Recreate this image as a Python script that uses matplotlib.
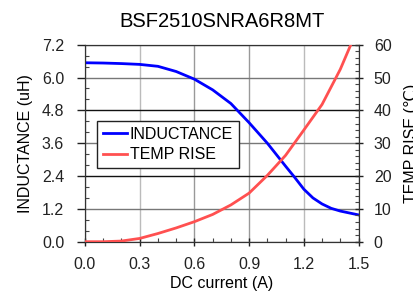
import numpy as np
import matplotlib
matplotlib.use('Agg')
import matplotlib.pyplot as plt
from matplotlib.ticker import MultipleLocator

plt.rcParams['font.family'] = ['Liberation Sans', 'DejaVu Sans']

# DC current (A) and the two measured curves
current_ind = [0.0, 0.1, 0.2, 0.3, 0.4, 0.5, 0.6, 0.7, 0.8, 0.9, 1.0, 1.1,
               1.15, 1.2, 1.25, 1.3, 1.35, 1.4, 1.5]
inductance = [6.54, 6.53, 6.51, 6.48, 6.41, 6.22, 5.94, 5.55, 5.05, 4.35, 3.6,
              2.76, 2.35, 1.92, 1.6, 1.38, 1.22, 1.12, 0.98]

current_temp = [0.0, 0.1, 0.2, 0.3, 0.4, 0.5, 0.6, 0.7, 0.8, 0.9, 1.0, 1.1,
                1.2, 1.3, 1.4, 1.5]
temp_rise = [0.0, 0.0, 0.2, 1.0, 2.5, 4.2, 6.1, 8.3, 11.2, 14.8, 20.2, 26.3,
             34.0, 41.8, 52.5, 65.5]

x_ticks = [0.0, 0.3, 0.6, 0.9, 1.2, 1.5]
left_ticks = [0.0, 1.2, 2.4, 3.6, 4.8, 6.0, 7.2]
right_ticks = [0, 10, 20, 30, 40, 50, 60]

fig = plt.figure(figsize=(4.14, 2.96), dpi=100)
ax = fig.add_axes([0.2053, 0.1834, 0.6607, 0.6656])
ax2 = ax.twinx()

ax.plot(current_ind, inductance, color='#0000ff', lw=2.0, label='INDUCTANCE', zorder=3)
ax2.plot(current_temp, temp_rise, color='#ff5050', lw=2.0, label='TEMP RISE', zorder=3)

ax.set_xlim(0, 1.5)
ax.set_ylim(0, 7.2)
ax2.set_ylim(0, 60)
ax.set_xticks(x_ticks)
ax.set_xticklabels(['%.1f' % v for v in x_ticks])
ax.set_yticks(left_ticks)
ax.set_yticklabels(['%.1f' % v for v in left_ticks])
ax2.set_yticks(right_ticks)
ax.xaxis.set_minor_locator(MultipleLocator(0.1))
ax.yaxis.set_minor_locator(MultipleLocator(0.4))
ax2.yaxis.set_minor_locator(MultipleLocator(2))

ax.grid(True, which='major', color='#999999', lw=1.0)
for v, gl in zip(left_ticks, ax.get_ygridlines()):
    if v in (2.4, 4.8):
        gl.set_color('#111111')
    else:
        gl.set_color('#777777')
for v, gl in zip(x_ticks, ax.get_xgridlines()):
    if v in (0.3, 1.2):
        gl.set_color('#bbbbbb')

ax.tick_params(axis='y', which='major', direction='out', length=6, width=1, pad=9,
               labelsize=11.5, colors='#222222')
ax.tick_params(axis='x', which='major', direction='inout', length=6, width=1, pad=8,
               labelsize=11.5, colors='#222222')
ax.tick_params(which='minor', direction='in', length=3, width=0.8, colors='#444444')
ax2.tick_params(which='major', direction='inout', length=6, width=1, pad=8,
                labelsize=11.5, colors='#222222')
ax2.tick_params(which='minor', direction='in', length=3, width=0.8, colors='#444444')
for a in (ax, ax2):
    for s in a.spines.values():
        s.set_color('#333333')

ax.set_xlabel('DC current (A)', fontsize=11.5, labelpad=3)
ax.set_ylabel('INDUCTANCE (uH)', fontsize=11.5, labelpad=6)
ax2.set_ylabel('TEMP RISE (\u2103)', fontsize=11.5, labelpad=9)
ax.set_title('BSF2510SNRA6R8MT', fontsize=14.5, pad=13)

h1, l1 = ax.get_legend_handles_labels()
h2, l2 = ax2.get_legend_handles_labels()
leg = ax2.legend(h1 + h2, l1 + l2, loc='upper left', bbox_to_anchor=(0.044, 0.613),
                 fontsize=11.5, frameon=True, fancybox=False, edgecolor='#222222',
                 framealpha=1, handlelength=1.5, handletextpad=0.2, borderpad=0.35,
                 labelspacing=0.35, borderaxespad=0)
leg.get_frame().set_linewidth(1.0)

fig.savefig('out.png', dpi=100)
